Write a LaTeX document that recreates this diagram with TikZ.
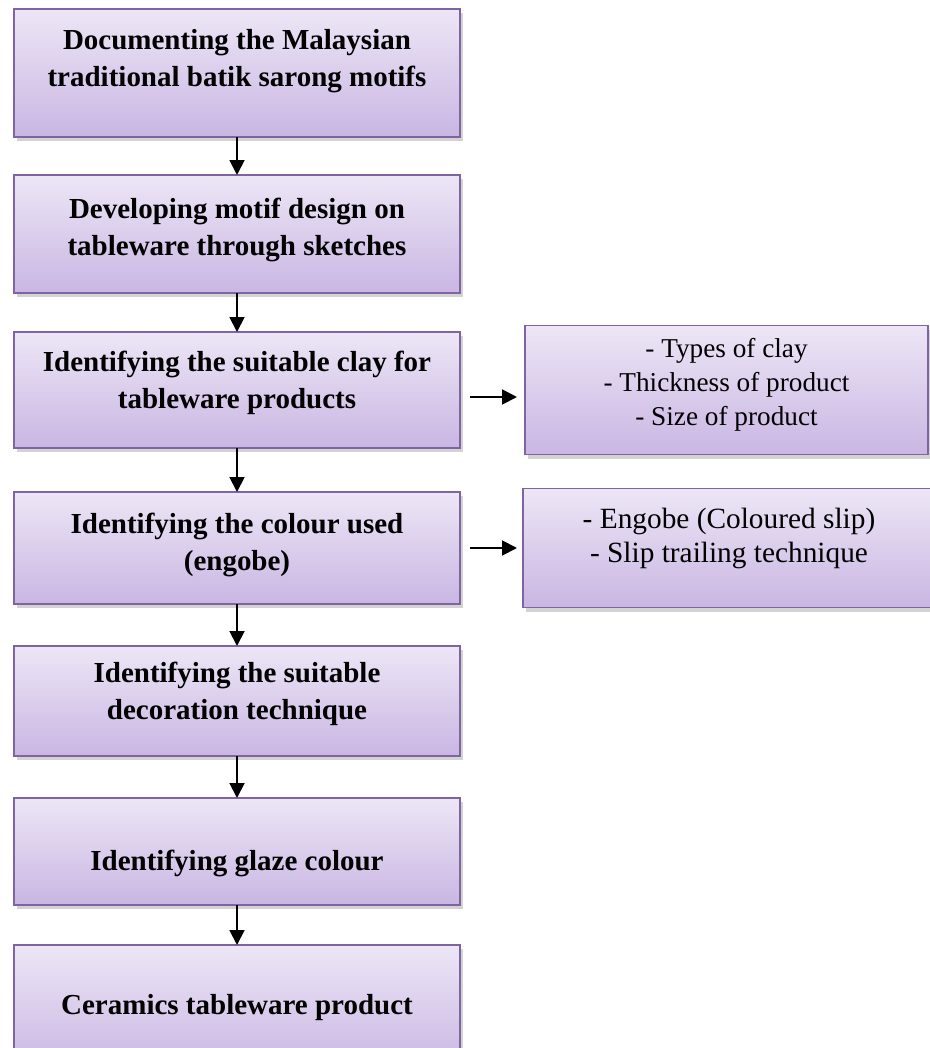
\documentclass[tikz,border=0pt]{standalone}
\usepackage{fontspec}
\setmainfont{Liberation Serif}
\usetikzlibrary{arrows.meta,positioning,shadows}
\definecolor{boxtop}{RGB}{237,230,246}
\definecolor{boxbottom}{RGB}{201,182,227}
\definecolor{boxline}{RGB}{128,100,162}
\tikzset{
  flowbox/.style={draw=boxline, line width=1.1pt, outer sep=0pt,
                  top color=boxtop, bottom color=boxbottom,
                  drop shadow={shadow xshift=0.05cm, shadow yshift=-0.08cm, opacity=0.35},
                  minimum width=8.92cm, align=center,
                  font=\fontsize{16.5}{21}\selectfont\bfseries},
  infobox/.style={flowbox, font=\fontsize{15.5}{19.3}\selectfont},
  lift/.style={text depth=#1},
  flowarrow/.style={line width=1.1pt, arrows=-{Triangle[width=8.5pt,length=8.5pt]}}
}

\begin{document}
\begin{tikzpicture}
  \useasboundingbox (0,0) rectangle (18.6,-20.96);
  \clip (0,0) rectangle (18.6,-20.96);

  % Main steps, top to bottom
  \node(doc)[flowbox, lift=0.62cm, minimum height=2.56cm] at (4.74cm,-1.46cm)
       {Documenting the Malaysian\\traditional batik sarong motifs};
  \node(sketch)[flowbox, lift=0.3cm, minimum height=2.36cm, below=0.76cm of doc]
       {Developing motif design on\\tableware through sketches};
  \node(clay)[flowbox, lift=0.4cm, minimum height=2.32cm, below=0.78cm of sketch]
       {Identifying the suitable clay for\\tableware products};
  \node(engobe)[flowbox, lift=0.24cm, minimum height=2.24cm, below=0.88cm of clay]
       {Identifying the colour used\\(engobe)};
  \node(deco)[flowbox, lift=0.4cm, minimum height=2.2cm, below=0.84cm of engobe]
       {Identifying the suitable\\decoration technique};
  \node(glaze)[flowbox, text height=0.88cm, minimum height=2.14cm, below=0.84cm of deco]
       {Identifying glaze colour};
  \node(product)[flowbox, minimum height=2.5cm, below=0.8cm of glaze]
       {Ceramics tableware product};

  % Side notes
  \node(clayinfo)[infobox, lift=0.33cm, minimum width=8.06cm, minimum height=2.58cm,
                  right=1.3cm of clay]
       {- Types of clay\\- Thickness of product\\- Size of product};
  \node(engobeinfo)[infobox, lift=0.51cm, minimum width=8.24cm, minimum height=2.38cm,
                    font=\fontsize{16.7}{19.3}\selectfont, right=1.26cm of engobe]
       {- Engobe (Coloured slip)\\- Slip trailing technique};

  % Arrows
  \draw[flowarrow] (doc) -- (sketch);
  \draw[flowarrow] (sketch) -- (clay);
  \draw[flowarrow] (clay) -- (engobe);
  \draw[flowarrow] (engobe) -- (deco);
  \draw[flowarrow] (deco) -- (glaze);
  \draw[flowarrow] (glaze) -- (product);
  \draw[flowarrow, shorten <=0.2cm, shorten >=0.16cm]
       ([yshift=-0.14cm]clay.east) -- ([yshift=-0.14cm]clay.east -| clayinfo.west);
  \draw[flowarrow, shorten <=0.2cm, shorten >=0.12cm]
       (engobe.east) -- (engobe.east -| engobeinfo.west);

\end{tikzpicture}
\end{document}
